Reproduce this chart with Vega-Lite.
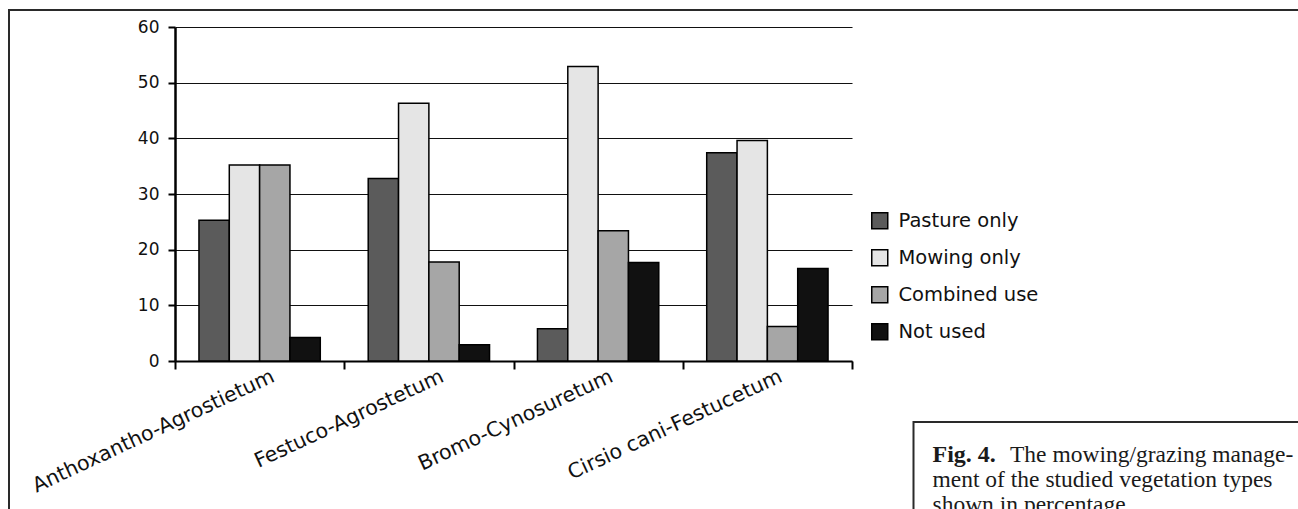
{
  "$schema": "https://vega.github.io/schema/vega-lite/v6.json",
  "width": 1300,
  "height": 505,
  "autosize": {"type": "none"},
  "padding": {"left": 9, "top": 10, "right": 0, "bottom": 0},
  "background": "white",
  "config": {
    "view": {"stroke": "#2a2a2a", "strokeWidth": 2},
    "font": "DejaVu Sans"
  },
  "layer": [
    {
      "data": {
        "values": [
          {"type": "Anthoxantho-Agrostietum", "use": "Pasture only", "pct": 25.3},
          {"type": "Anthoxantho-Agrostietum", "use": "Mowing only", "pct": 35.2},
          {"type": "Anthoxantho-Agrostietum", "use": "Combined use", "pct": 35.2},
          {"type": "Anthoxantho-Agrostietum", "use": "Not used", "pct": 4.2},
          {"type": "Festuco-Agrostetum", "use": "Pasture only", "pct": 32.8},
          {"type": "Festuco-Agrostetum", "use": "Mowing only", "pct": 46.3},
          {"type": "Festuco-Agrostetum", "use": "Combined use", "pct": 17.8},
          {"type": "Festuco-Agrostetum", "use": "Not used", "pct": 2.9},
          {"type": "Bromo-Cynosuretum", "use": "Pasture only", "pct": 5.8},
          {"type": "Bromo-Cynosuretum", "use": "Mowing only", "pct": 52.9},
          {"type": "Bromo-Cynosuretum", "use": "Combined use", "pct": 23.4},
          {"type": "Bromo-Cynosuretum", "use": "Not used", "pct": 17.7},
          {"type": "Cirsio cani-Festucetum", "use": "Pasture only", "pct": 37.4},
          {"type": "Cirsio cani-Festucetum", "use": "Mowing only", "pct": 39.6},
          {"type": "Cirsio cani-Festucetum", "use": "Combined use", "pct": 6.2},
          {"type": "Cirsio cani-Festucetum", "use": "Not used", "pct": 16.6}
        ]
      },
      "mark": {"type": "bar", "stroke": "#000000", "strokeWidth": 1.5},
      "encoding": {
        "x": {
          "field": "type",
          "type": "nominal",
          "sort": ["Anthoxantho-Agrostietum", "Festuco-Agrostetum", "Bromo-Cynosuretum", "Cirsio cani-Festucetum"],
          "scale": {"range": [166, 843], "paddingInner": 0, "paddingOuter": 0},
          "axis": {
            "title": null,
            "labelAngle": -25,
            "labelFont": "DejaVu Sans",
            "labelFontSize": 20.5,
            "labelColor": "#111111",
            "labelLimit": 500,
            "labelOffset": 9,
            "labelPadding": -3,
            "tickBand": "extent",
            "tickSize": 8,
            "tickWidth": 2,
            "tickColor": "#000000",
            "domainColor": "#000000",
            "domainWidth": 2,
            "grid": false,
            "offset": -154
          }
        },
        "xOffset": {
          "field": "use",
          "type": "nominal",
          "sort": ["Pasture only", "Mowing only", "Combined use", "Not used"],
          "scale": {"paddingInner": 0, "paddingOuter": 0.79}
        },
        "y": {
          "field": "pct",
          "type": "quantitative",
          "scale": {"domain": [0, 60], "range": [351, 17], "nice": false},
          "axis": {
            "title": null,
            "values": [0, 10, 20, 30, 40, 50, 60],
            "labelFont": "DejaVu Sans",
            "labelFontSize": 17,
            "labelColor": "#111111",
            "labelPadding": 9,
            "tickSize": 7,
            "tickWidth": 2,
            "tickColor": "#000000",
            "domainColor": "#000000",
            "domainWidth": 2.5,
            "grid": true,
            "gridColor": "#111111",
            "gridWidth": 1.2,
            "gridOpacity": 1,
            "offset": -166
          }
        },
        "color": {
          "field": "use",
          "type": "nominal",
          "sort": ["Pasture only", "Mowing only", "Combined use", "Not used"],
          "scale": {
            "domain": ["Pasture only", "Mowing only", "Combined use", "Not used"],
            "range": ["#5b5b5b", "#e5e5e5", "#a6a6a6", "#111111"]
          },
          "legend": {
            "title": null,
            "orient": "none",
            "legendX": 861,
            "legendY": 201,
            "padding": 0,
            "symbolType": "square",
            "symbolSize": 256,
            "symbolStrokeColor": "#000000",
            "symbolStrokeWidth": 1.5,
            "symbolOpacity": 1,
            "labelFont": "DejaVu Sans",
            "labelFontSize": 19.5,
            "labelColor": "#111111",
            "labelOffset": 9,
            "rowPadding": 14,
            "labelLimit": 300
          }
        }
      }
    },
    {
      "data": {
        "values": [
          {"line": 1, "part": "label", "text": "Fig. 4."},
          {"line": 1, "part": "body", "text": "The mowing/grazing manage-"},
          {"line": 2, "part": "body", "text": "ment of the studied vegetation types"},
          {"line": 3, "part": "body", "text": "shown in percentage."}
        ]
      },
      "layer": [
        {
          "transform": [{"filter": "datum.part === 'label'"}],
          "mark": {"type": "rect", "fill": "white", "stroke": "#2a2a2a", "strokeWidth": 2},
          "encoding": {
            "x": {"datum": 0, "type": "quantitative", "scale": {"domain": [0, 1], "range": [904.5, 1310]}, "axis": null},
            "x2": {"datum": 1},
            "y": {"datum": -0.6, "type": "quantitative", "scale": {"domain": [0, 4], "range": [427, 527]}, "axis": null},
            "y2": {"datum": 5}
          }
        },
        {
          "transform": [{"filter": "datum.part === 'label'"}],
          "mark": {"type": "text", "align": "left", "baseline": "alphabetic", "font": "Liberation Serif", "fontSize": 24, "fontWeight": "bold", "color": "#1a1a1a", "dx": 19},
          "encoding": {
            "x": {"datum": 0, "type": "quantitative", "scale": {"domain": [0, 1], "range": [904.5, 1310]}, "axis": null},
            "y": {"field": "line", "type": "quantitative", "scale": {"domain": [0, 4], "range": [427, 527]}, "axis": null},
            "text": {"field": "text"}
          }
        },
        {
          "transform": [{"filter": "datum.part === 'body' && datum.line === 1"}],
          "mark": {"type": "text", "align": "left", "baseline": "alphabetic", "font": "Liberation Serif", "fontSize": 23.5, "color": "#1a1a1a", "dx": 96.5},
          "encoding": {
            "x": {"datum": 0, "type": "quantitative", "scale": {"domain": [0, 1], "range": [904.5, 1310]}, "axis": null},
            "y": {"field": "line", "type": "quantitative", "scale": {"domain": [0, 4], "range": [427, 527]}, "axis": null},
            "text": {"field": "text"}
          }
        },
        {
          "transform": [{"filter": "datum.part === 'body' && datum.line > 1"}],
          "mark": {"type": "text", "align": "left", "baseline": "alphabetic", "font": "Liberation Serif", "fontSize": 23.5, "color": "#1a1a1a", "dx": 19},
          "encoding": {
            "x": {"datum": 0, "type": "quantitative", "scale": {"domain": [0, 1], "range": [904.5, 1310]}, "axis": null},
            "y": {"field": "line", "type": "quantitative", "scale": {"domain": [0, 4], "range": [427, 527]}, "axis": null},
            "text": {"field": "text"}
          }
        }
      ]
    }
  ],
  "resolve": {"scale": {"x": "independent", "y": "independent"}}
}
